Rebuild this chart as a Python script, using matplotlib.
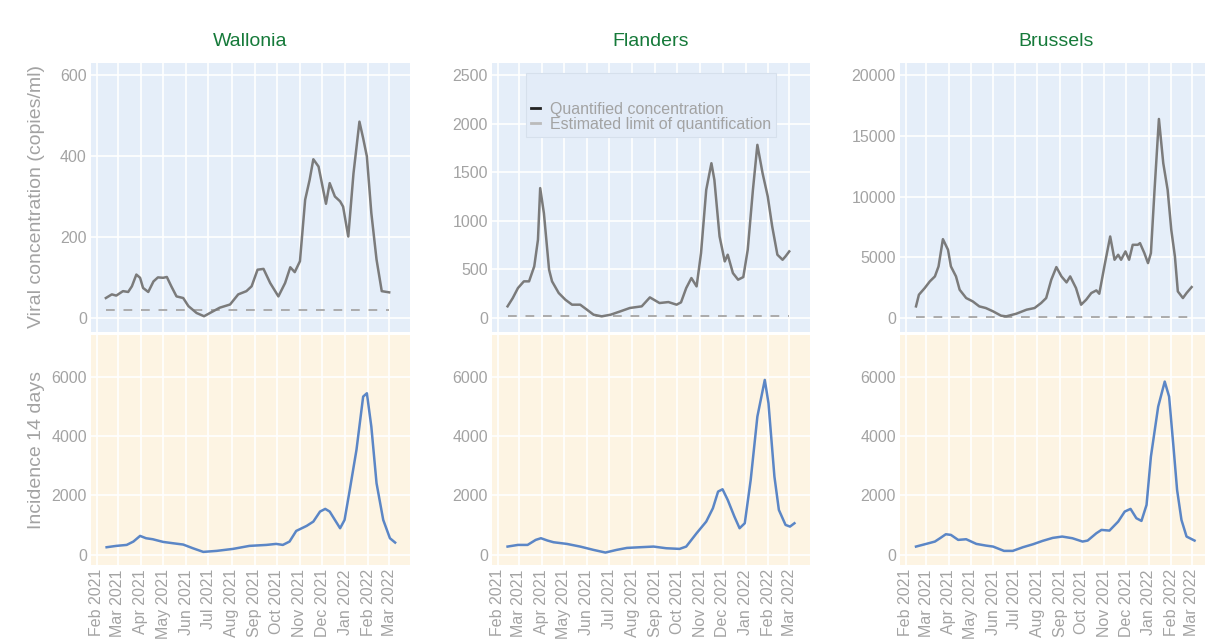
import matplotlib
matplotlib.use("Agg")
import matplotlib.pyplot as plt
from matplotlib.lines import Line2D
import pandas as pd

# ---------------- data ----------------
regions = ["Wallonia", "Flanders", "Brussels"]

wal_conc_dates = ["2021-02-13", "2021-02-21", "2021-02-27", "2021-03-08", "2021-03-15", "2021-03-20",
                  "2021-03-26", "2021-03-31", "2021-04-04", "2021-04-11", "2021-04-18", "2021-04-24",
                  "2021-05-01", "2021-05-06", "2021-05-12", "2021-05-19", "2021-05-28", "2021-06-04",
                  "2021-06-15", "2021-06-25", "2021-07-03", "2021-07-16", "2021-07-30", "2021-08-10",
                  "2021-08-21", "2021-08-28", "2021-09-05", "2021-09-13", "2021-09-22", "2021-10-03",
                  "2021-10-12", "2021-10-19", "2021-10-25", "2021-11-01", "2021-11-08", "2021-11-14",
                  "2021-11-19", "2021-11-26", "2021-12-06", "2021-12-11", "2021-12-18", "2021-12-25",
                  "2021-12-29", "2022-01-05", "2022-01-12", "2022-01-20", "2022-01-25", "2022-01-30",
                  "2022-02-05", "2022-02-12", "2022-02-19", "2022-03-01"]
wal_conc_vals = [49, 58, 55, 66, 64, 78, 107, 99, 74, 64, 90, 100,
                 99, 101, 78, 53, 49, 29, 12, 4, 12, 25, 33, 58,
                 66, 78, 119, 121, 86, 53, 86, 125, 113, 140, 292, 341,
                 392, 374, 282, 333, 300, 288, 275, 201, 357, 485, 444, 399,
                 259, 144, 66, 63]
wal_loq = 20

wal_inc_dates = ["2021-02-14", "2021-02-27", "2021-03-13", "2021-03-22", "2021-03-31", "2021-04-08",
                 "2021-04-17", "2021-05-01", "2021-05-14", "2021-05-28", "2021-06-10", "2021-06-24",
                 "2021-07-12", "2021-08-03", "2021-08-25", "2021-09-17", "2021-09-30", "2021-10-09",
                 "2021-10-18", "2021-10-27", "2021-11-10", "2021-11-19", "2021-11-28", "2021-12-05",
                 "2021-12-11", "2021-12-18", "2021-12-25", "2021-12-31", "2022-01-07", "2022-01-16",
                 "2022-01-25", "2022-01-30", "2022-02-05", "2022-02-12", "2022-02-21", "2022-03-02",
                 "2022-03-09"]
wal_inc_vals = [258, 303, 336, 449, 639, 561, 527, 437, 393, 348, 224, 101,
                135, 202, 303, 336, 370, 336, 449, 807, 976, 1121, 1458, 1548,
                1458, 1177, 897, 1177, 2187, 3533, 5327, 5439, 4318, 2411, 1177, 561,
                415]

fla_conc_dates = ["2021-02-14", "2021-02-21", "2021-02-28", "2021-03-08", "2021-03-15", "2021-03-22",
                  "2021-03-27", "2021-03-30", "2021-04-04", "2021-04-11", "2021-04-15", "2021-04-24",
                  "2021-05-03", "2021-05-12", "2021-05-23", "2021-06-01", "2021-06-10", "2021-06-21",
                  "2021-07-03", "2021-07-16", "2021-07-29", "2021-08-14", "2021-08-25", "2021-09-07",
                  "2021-09-19", "2021-09-30", "2021-10-06", "2021-10-13", "2021-10-20", "2021-10-27",
                  "2021-11-02", "2021-11-09", "2021-11-16", "2021-11-20", "2021-11-27", "2021-12-04",
                  "2021-12-08", "2021-12-15", "2021-12-22", "2021-12-29", "2022-01-04", "2022-01-11",
                  "2022-01-17", "2022-01-24", "2022-01-31", "2022-02-06", "2022-02-13", "2022-02-20",
                  "2022-02-24", "2022-03-01"]
fla_conc_vals = [120, 205, 308, 377, 377, 531, 805, 1336, 1079, 497, 377, 257,
                 188, 137, 137, 86, 34, 17, 34, 68, 103, 120, 212, 154,
                 164, 137, 161, 308, 411, 325, 668, 1318, 1592, 1421, 839, 582,
                 651, 462, 394, 421, 702, 1318, 1781, 1490, 1250, 942, 651, 599,
                 634, 685]
fla_loq = 20

fla_inc_dates = ["2021-02-14", "2021-02-28", "2021-03-13", "2021-03-24", "2021-03-31", "2021-04-09",
                 "2021-04-17", "2021-05-05", "2021-05-23", "2021-06-10", "2021-06-26", "2021-07-11",
                 "2021-07-25", "2021-08-12", "2021-08-30", "2021-09-16", "2021-10-04", "2021-10-13",
                 "2021-10-27", "2021-11-09", "2021-11-18", "2021-11-25", "2021-12-01", "2021-12-08",
                 "2021-12-17", "2021-12-24", "2021-12-31", "2022-01-08", "2022-01-17", "2022-01-27",
                 "2022-02-01", "2022-02-09", "2022-02-15", "2022-02-24", "2022-03-02", "2022-03-08"]
fla_inc_vals = [280, 336, 336, 505, 561, 482, 426, 370, 280, 168, 79, 168,
                235, 258, 280, 224, 202, 280, 729, 1121, 1570, 2131, 2209, 1850,
                1290, 897, 1065, 2523, 4654, 5888, 5102, 2635, 1514, 1009, 953, 1065]

bru_conc_dates = ["2021-02-15", "2021-02-19", "2021-02-27", "2021-03-06", "2021-03-13", "2021-03-18",
                  "2021-03-24", "2021-03-31", "2021-04-04", "2021-04-11", "2021-04-16", "2021-04-25",
                  "2021-05-04", "2021-05-13", "2021-05-22", "2021-06-01", "2021-06-12", "2021-06-19",
                  "2021-07-03", "2021-07-17", "2021-07-28", "2021-08-06", "2021-08-13", "2021-08-20",
                  "2021-08-27", "2021-09-03", "2021-09-10", "2021-09-15", "2021-09-23", "2021-09-30",
                  "2021-10-07", "2021-10-14", "2021-10-21", "2021-10-25", "2021-11-01", "2021-11-09",
                  "2021-11-15", "2021-11-20", "2021-11-24", "2021-11-30", "2021-12-05", "2021-12-10",
                  "2021-12-17", "2021-12-20", "2021-12-26", "2021-12-31", "2022-01-04", "2022-01-09",
                  "2022-01-15", "2022-01-21", "2022-01-27", "2022-02-01", "2022-02-06", "2022-02-10",
                  "2022-02-17", "2022-02-22", "2022-03-01"]
bru_conc_vals = [959, 1918, 2466, 3014, 3425, 4247, 6493, 5616, 4247, 3425, 2329, 1644,
                 1370, 959, 822, 548, 192, 137, 356, 685, 822, 1233, 1644, 3151,
                 4192, 3425, 2932, 3425, 2466, 1096, 1507, 2055, 2274, 2000, 4247, 6712,
                 4795, 5206, 4795, 5480, 4795, 6027, 6027, 6164, 5343, 4521, 5343, 10548,
                 16384, 12740, 10548, 7260, 5069, 2192, 1644, 2055, 2548]
bru_loq = 60

bru_inc_dates = ["2021-02-15", "2021-03-01", "2021-03-13", "2021-03-20", "2021-03-28", "2021-04-04",
                 "2021-04-14", "2021-04-25", "2021-05-09", "2021-05-22", "2021-06-01", "2021-06-16",
                 "2021-06-28", "2021-07-12", "2021-07-26", "2021-08-08", "2021-08-22", "2021-09-04",
                 "2021-09-18", "2021-10-02", "2021-10-09", "2021-10-21", "2021-10-28", "2021-11-08",
                 "2021-11-20", "2021-11-29", "2021-12-07", "2021-12-15", "2021-12-22", "2021-12-29",
                 "2022-01-04", "2022-01-14", "2022-01-23", "2022-01-29", "2022-02-04", "2022-02-09",
                 "2022-02-15", "2022-02-22", "2022-03-05"]
bru_inc_vals = [280, 370, 449, 561, 695, 673, 505, 527, 370, 314, 280, 135,
                135, 258, 359, 471, 572, 617, 561, 449, 482, 729, 841, 818,
                1121, 1458, 1548, 1234, 1144, 1682, 3308, 4990, 5832, 5327, 3645, 2187,
                1177, 617, 482]

conc_top_ticks = [[0, 200, 400, 600], [0, 500, 1000, 1500, 2000, 2500], [0, 5000, 10000, 15000, 20000]]
conc_ylims = [(-35, 630), (-144, 2623), (-1150, 20990)]
inc_ticks = [0, 2000, 4000, 6000]
inc_ylim = (-340, 7400)

month_ticks = pd.date_range("2021-02-01", "2022-03-01", freq="MS")
x_limits = (pd.Timestamp("2021-01-24"), pd.Timestamp("2022-03-29"))

legend_labels = ["Quantified concentration", "Estimated limit of quantification"]

# ---------------- style ----------------
FONT = ["Liberation Sans", "DejaVu Sans"]
plt.rcParams["font.family"] = FONT
GREY_TXT = "#a3a3a3"
TOP_BG = "#e5eef9"
BOT_BG = "#fdf4e3"
CONC_COLOR = "#7b7b7b"
LOQ_COLOR = "#ababab"
INC_COLOR = "#5b86c6"
TITLE_COLOR = "#167a3a"

W, H = 1205, 639
fig = plt.figure(figsize=(W / 100, H / 100), dpi=100)

panel_x = [(91, 410), (492, 810), (900, 1212)]
top_y = (63, 332)
bot_y = (335, 565)


def rect(x0, x1, y0, y1):
    return [x0 / W, 1 - y1 / H, (x1 - x0) / W, (y1 - y0) / H]


conc_data = [(wal_conc_dates, wal_conc_vals, wal_loq),
             (fla_conc_dates, fla_conc_vals, fla_loq),
             (bru_conc_dates, bru_conc_vals, bru_loq)]
inc_data = [(wal_inc_dates, wal_inc_vals),
            (fla_inc_dates, fla_inc_vals),
            (bru_inc_dates, bru_inc_vals)]


def style_axes(ax, bg, yticks, ylim, show_x):
    ax.set_facecolor(bg)
    for s in ax.spines.values():
        s.set_visible(False)
    ax.set_xlim(*x_limits)
    ax.set_ylim(*ylim)
    ax.set_yticks(yticks)
    ax.set_yticklabels([str(t) for t in yticks])
    ax.set_xticks(month_ticks)
    if show_x:
        ax.set_xticklabels([d.strftime("%b %Y") for d in month_ticks], rotation=90)
    else:
        ax.set_xticklabels([])
    ax.tick_params(axis="both", length=0, labelsize=11.5, colors=GREY_TXT, pad=3)
    ax.grid(True, color="white", linewidth=1.2)
    ax.set_axisbelow(True)


for i, name in enumerate(regions):
    x0, x1 = panel_x[i]
    ax_top = fig.add_axes(rect(x0, x1, *top_y))
    ax_bot = fig.add_axes(rect(x0, x1, *bot_y))

    dates, vals, loq = conc_data[i]
    dts = pd.to_datetime(dates)
    ax_top.plot(dts, vals, color=CONC_COLOR, lw=1.8, solid_joinstyle="round", zorder=3)
    ax_top.plot([dts[0], dts[-1]], [loq, loq], color=LOQ_COLOR, lw=1.4,
                linestyle=(0, (4.5, 4.5)), zorder=2)
    style_axes(ax_top, TOP_BG, conc_top_ticks[i], conc_ylims[i], False)
    ax_top.set_title(name, color=TITLE_COLOR, fontsize=14, pad=12)

    idates, ivals = inc_data[i]
    ax_bot.plot(pd.to_datetime(idates), ivals, color=INC_COLOR, lw=1.8,
                solid_joinstyle="round", zorder=3)
    style_axes(ax_bot, BOT_BG, inc_ticks, inc_ylim, True)

    if i == 1:
        handles = [Line2D([], [], color="#222222", lw=2),
                   Line2D([], [], color="#bbbbbb", lw=2)]
        leg = ax_top.legend(handles, legend_labels, loc="upper left",
                            bbox_to_anchor=((526 - x0) / (x1 - x0), 1 - (73 - top_y[0]) / (top_y[1] - top_y[0])),
                            frameon=True, fontsize=11.5, labelcolor=GREY_TXT,
                            handlelength=0.6, handletextpad=0.6, borderpad=0.3,
                            labelspacing=0.0, title=" ", title_fontsize=18.5,
                            borderaxespad=0, fancybox=False)
        fr = leg.get_frame()
        fr.set_facecolor("#e3ecf8")
        fr.set_edgecolor("#d6e0ec")
        fr.set_linewidth(0.8)
        fr.set_alpha(1)

fig.text(37 / W, 1 - 197 / H, "Viral concentration (copies/ml)", rotation=90,
         ha="center", va="center", fontsize=14, color=GREY_TXT)
fig.text(37 / W, 1 - 450 / H, "Incidence 14 days", rotation=90,
         ha="center", va="center", fontsize=14, color=GREY_TXT)

fig.savefig("out.png", dpi=100, facecolor="white")
